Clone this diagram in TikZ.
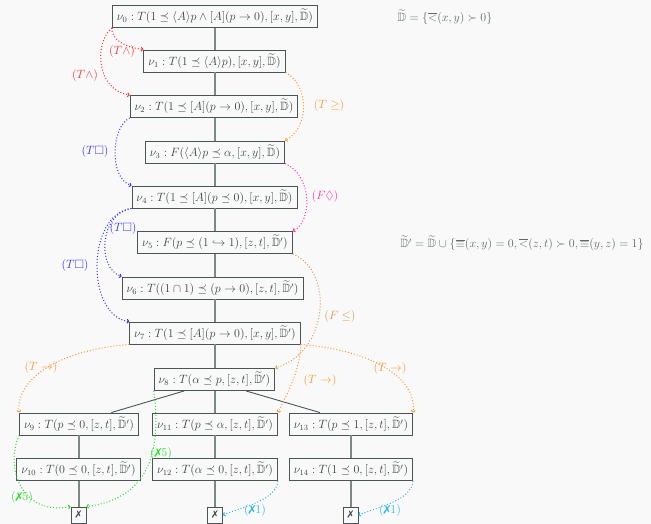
\documentclass[tikz,border=0pt]{standalone}
\usepackage{amsmath,amssymb}
\usepackage{pifont}
\usetikzlibrary{arrows.meta,calc}

\definecolor{bgc}{HTML}{F9F9F9}
\definecolor{boxline}{HTML}{4A5656}
\definecolor{txt}{HTML}{3A4545}
\definecolor{trunk}{HTML}{7D8888}
\definecolor{cred}{HTML}{FF3030}
\definecolor{corange}{HTML}{FF9933}
\definecolor{ctan}{HTML}{DB9A58}
\definecolor{cblue}{HTML}{3333FF}
\definecolor{cpink}{HTML}{FF33AA}
\definecolor{cgreen}{HTML}{33DD33}
\definecolor{ccyan}{HTML}{33B5EE}

\newcommand{\Dt}{\widetilde{\mathbb{D}}}
\newcommand{\lbar}{{\overline{<}}}
\newcommand{\ebar}{{\overline{\equiv}}}
\newcommand{\xm}{\text{\ding{55}}}

\tikzset{
  stepbox/.style={draw=boxline, line width=0.9pt, fill=bgc, text=txt,
    inner xsep=4.5pt, inner ysep=0pt, minimum height=22pt,
    font=\fontsize{12}{14}\selectfont},
  closebox/.style={draw=boxline, line width=0.9pt, fill=bgc, text=txt,
    inner sep=0pt, minimum width=15pt, minimum height=16pt,
    font=\fontsize{10}{12}\selectfont},
  trunkline/.style={draw=trunk, line width=1.6pt},
  branch/.style={draw=boxline, line width=0.9pt},
  rule/.style={dotted, line width=1pt, -{To[length=2.5pt,width=4.5pt]}},
  rlabel/.style={font=\fontsize{12}{14}\selectfont, inner sep=1pt},
  legend/.style={text=txt!80, font=\fontsize{12}{14}\selectfont}
}

\begin{document}
\begin{tikzpicture}[x=1pt,y=-1pt]
\fill[bgc] (0,0) rectangle (651,524);
\useasboundingbox (0,0) rectangle (651,524);

% tableau nodes
\node[stepbox] (v0)  at (215,16.5) {$\nu_0 : T(1 \preceq \langle A\rangle p \wedge [A](p \to 0), [x,y], \Dt)$};
\node[stepbox] (v1)  at (214.5,61) {$\nu_1 : T(1 \preceq \langle A\rangle p), [x,y], \Dt)$};
\node[stepbox] (v2)  at (214,106.5) {$\nu_2 : T(1 \preceq [A](p \to 0), [x,y], \Dt)$};
\node[stepbox] (v3)  at (215,152) {$\nu_3 : F(\langle A\rangle p \preceq \alpha, [x,y], \Dt)$};
\node[stepbox] (v4)  at (214.5,197) {$\nu_4 : T(1 \preceq [A](p \preceq 0), [x,y], \Dt)$};
\node[stepbox] (v5)  at (215,242.5) {$\nu_5 : F(p \preceq (1 \hookrightarrow 1), [z,t], \Dt')$};
\node[stepbox] (v6)  at (212.5,288) {$\nu_6 : T((1 \cap 1) \preceq (p \to 0), [z,t], \Dt')$};
\node[stepbox] (v7)  at (215,333) {$\nu_7 : T(1 \preceq [A](p \to 0), [x,y], \Dt')$};
\node[stepbox] (v8)  at (214.5,379.5) {$\nu_8 : T(\alpha \preceq p, [z,t], \Dt')$};
\node[stepbox] (v9)  at (79,424) {$\nu_9 : T(p \preceq 0, [z,t], \Dt')$};
\node[stepbox] (v11) at (215,424) {$\nu_{11} : T(p \preceq \alpha, [z,t], \Dt')$};
\node[stepbox] (v13) at (351,424) {$\nu_{13} : T(p \preceq 1, [z,t], \Dt')$};
\node[stepbox] (v10) at (78.5,469.5) {$\nu_{10} : T(0 \preceq 0, [z,t], \Dt')$};
\node[stepbox] (v12) at (215,469.5) {$\nu_{12} : T(\alpha \preceq 0, [z,t], \Dt')$};
\node[stepbox] (v14) at (351,469.5) {$\nu_{14} : T(1 \preceq 0, [z,t], \Dt')$};
\node[closebox] (c1) at (78.5,515) {\ding{55}};
\node[closebox] (c2) at (215,515) {\ding{55}};
\node[closebox] (c3) at (350.5,515) {\ding{55}};

% constraint sets
\node[legend] (d0) at (445,17) {$\Dt = \{\lbar(x,y) \succ 0\}$};
\node[legend] (d1) at (522,243) {$\Dt' = \Dt \cup \{\ebar(x,y) = 0, \lbar(z,t) \succ 0, \ebar(y,z) = 1\}$};

% tree edges: one straight trunk, then the branches
\foreach \a/\b in {v0/v1,v1/v2,v2/v3,v3/v4,v4/v5,v5/v6,v6/v7,v7/v8,v8/v11,v11/v12,v12/c2}
  \draw[trunkline] (v0.south |- \a.south) -- (v0.south |- \b.north);
\draw[trunkline] (v9.south) -- (v9.south |- v10.north);
\draw[trunkline] (v9.south |- v10.south) -- (v9.south |- c1.north);
\draw[trunkline] (v13.south) -- (v13.south |- v14.north);
\draw[trunkline] (v13.south |- v14.south) -- (v13.south |- c3.north);
\draw[branch] ($(v8.south west)!0.25!(v8.south east)$) -- ($(v9.north west)!0.77!(v9.north east)$);
\draw[branch] ($(v8.south west)!0.76!(v8.south east)$) -- ($(v13.north west)!0.25!(v13.north east)$);

% rule applications
\draw[rule, cred] (v0.south west) .. controls (111,39) and (124,47) .. (v1.north west);
\node[rlabel, text=cred] (l1) at (122,52) {$(T\wedge)$};
\draw[rule, cred] (v0.south west) .. controls (94,42) and (96,90) .. (v2.north west);
\node[rlabel, text=cred] (l2) at (85,76) {$(T\wedge)$};

\draw[rule, corange] (v1.south east) .. controls (310,86) and (309,128) .. (v3.north east);
\node[rlabel, text=corange] (l3) at (329,106) {$(T \geq)$};

\draw[rule, cblue] (v2.south west) .. controls (111,127) and (109,178) .. (v4.north west);
\node[rlabel, text=cblue] (l4) at (95,152) {$(T\Box)$};

\draw[rule, cpink] (v3.south east) .. controls (313,176) and (312,222) .. (v5.north east);
\node[rlabel, text=cpink] (l5) at (325,197) {$(F\Diamond)$};

\draw[rule, cblue] (v4.south west) .. controls (99,214) and (97,268) .. (v6.north west);
\node[rlabel, text=cblue] (l6) at (123,229) {$(T\Box)$};
\draw[rule, cblue] (v4.south west) .. controls (86,214) and (86,316) .. (v7.north west);
\node[rlabel, text=cblue] (l7) at (75,265) {$(T\Box)$};

\draw[rule, ctan] (v5.south east) .. controls (335,272) and (328,352) .. (v8.north east);
\node[rlabel, text=ctan] (l8) at (340,316) {$(F \leq)$};

\draw[rule, corange] (v7.south west) .. controls (60,350) and (16,378) .. (v9.north west);
\node[rlabel, text=corange] (l9) at (41,367) {$(T \to)$};
\draw[rule, corange] (v7.south east) .. controls (372,350) and (417,378) .. (v13.north east);
\node[rlabel, text=corange] (l10) at (390,368) {$(T \to)$};
\draw[rule, corange] (v7.south east) .. controls (300,372) and (286,396) .. (v11.north east);
\node[rlabel, text=corange] (l11) at (320,380) {$(T \to)$};

\draw[rule, cgreen] (v8.south west) .. controls (161,445) and (153,498) .. (c1.north east);
\node[rlabel, text=cgreen] (l12) at (161,453) {$(\xm 5)$};
\draw[rule, cgreen] (v9.south west) .. controls (4,470) and (24,516) .. (c1.north west);
\node[rlabel, text=cgreen] (l13) at (22,497) {$(\xm 5)$};

\draw[rule, ccyan] (v12.south east) .. controls (276,500) and (246,506) .. (c2.east);
\node[rlabel, text=ccyan] (l14) at (255,510) {$(\xm 1)$};
\draw[rule, ccyan] (v14.south east) .. controls (411,500) and (382,506) .. (c3.east);
\node[rlabel, text=ccyan] (l15) at (390,510) {$(\xm 1)$};
\end{tikzpicture}
\end{document}
